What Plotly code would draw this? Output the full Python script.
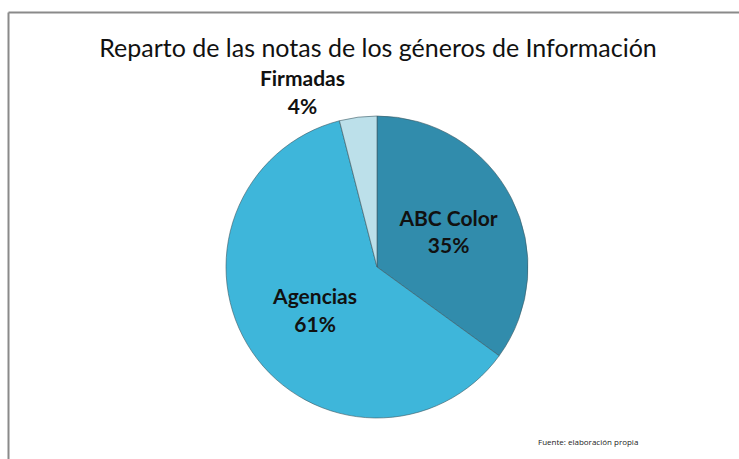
import plotly.graph_objects as go

labels = ["ABC Color", "Agencias", "Firmadas"]
values = [35, 61, 4]
colors = ["#318CAC", "#3EB6DA", "#BCE0EA"]
text_positions = ["inside", "inside", "outside"]

W, H = 739, 459
cx, cy, r = 377, 267, 151

fig = go.Figure(go.Pie(
    labels=labels,
    values=values,
    sort=False,
    direction="clockwise",
    rotation=0,
    marker=dict(colors=colors, line=dict(color="rgba(60,90,100,0.6)", width=1)),
    texttemplate="<b>%{label}</b><br><b>%{percent:.0%}</b>",
    textposition=text_positions,
    insidetextorientation="horizontal",
    textfont=dict(family="Lato", size=21, color="#111"),
    showlegend=False,
    hoverinfo="label+percent",
    domain=dict(x=[(cx - r) / W, (cx + r) / W],
                y=[(H - cy - r) / H, (H - cy + r) / H]),
))

fig.update_layout(
    width=W, height=H,
    margin=dict(l=0, r=0, t=0, b=0, autoexpand=False),
    paper_bgcolor="white",
    title=dict(text="Reparto de las notas de los géneros de Información",
               x=378 / W, xanchor="center", y=1 - 48 / H, yanchor="middle",
               font=dict(family="Lato", size=25, color="#111")),
    shapes=[
        dict(type="line", xref="paper", yref="paper", x0=8.5 / W, x1=1, y0=1 - 12.5 / H, y1=1 - 12.5 / H,
             line=dict(color="#8a8a8a", width=2)),
        dict(type="line", xref="paper", yref="paper", x0=8.5 / W, x1=8.5 / W, y0=0, y1=1 - 12.5 / H,
             line=dict(color="#8a8a8a", width=2)),
    ],
    annotations=[dict(text="Fuente: elaboración propia", xref="paper", yref="paper",
                      x=588 / W, y=1 - 441 / H, xanchor="center", yanchor="middle",
                      showarrow=False, font=dict(family="Open Sans", size=8, color="#222"))],
)

fig.write_html("out.html", config={"displayModeBar": False},
               post_script="document.body.style.margin='0';")
